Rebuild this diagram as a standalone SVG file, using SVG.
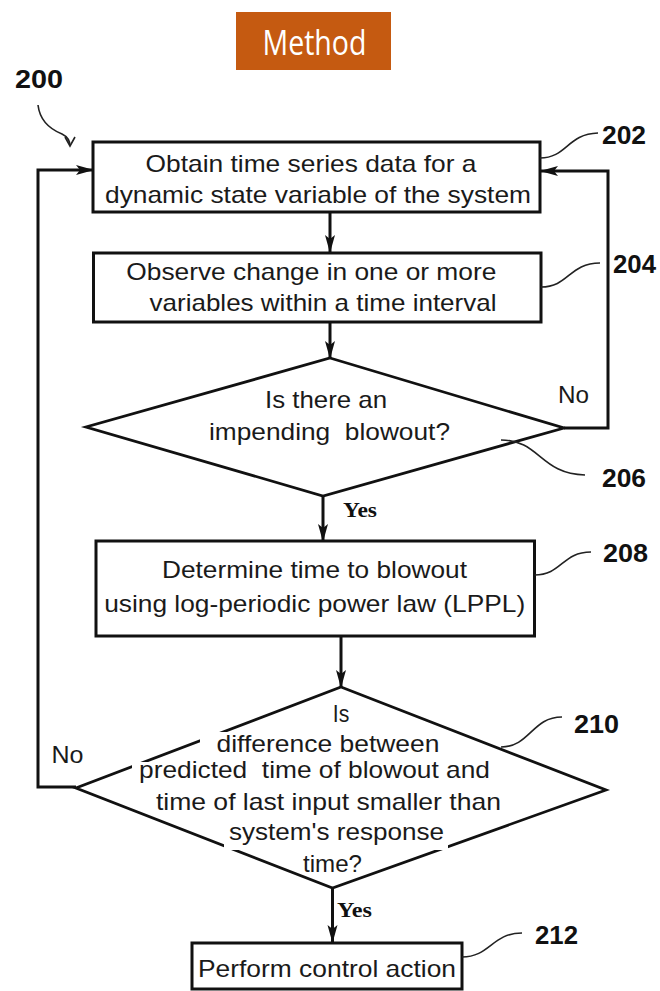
<svg xmlns="http://www.w3.org/2000/svg" width="660" height="991" viewBox="0 0 660 991">
<defs>
<marker id="arr" markerUnits="userSpaceOnUse" markerWidth="18" markerHeight="12" refX="17" refY="6" orient="auto">
<path d="M0,1 L18,6 L0,11 L4,6 z" fill="#111"/>
</marker>
<marker id="open" markerUnits="userSpaceOnUse" markerWidth="12" markerHeight="12" refX="10" refY="6" orient="auto">
<path d="M1,1 L10,6 L1,11" fill="none" stroke="#222" stroke-width="1.6"/>
</marker>
<style>
.box{fill:#fff;stroke:#111;stroke-width:3}
.dia{fill:#fff;stroke:#111;stroke-width:2.8;stroke-linejoin:miter}
.t{font-family:"Liberation Sans",Arial,sans-serif;font-size:24px;fill:#1a1a1a;text-anchor:middle}
.ref{font-family:"Liberation Sans",Arial,sans-serif;font-size:25px;font-weight:bold;fill:#111}
.yes{font-family:"Liberation Serif","Times New Roman",serif;font-size:21px;font-weight:bold;fill:#111}
.conn{fill:none;stroke:#111;stroke-width:3}
.lead{fill:none;stroke:#222;stroke-width:1.6}
.gap{fill:#fff}
</style>
</defs>
<rect width="660" height="991" fill="#fff"/>

<g id="title">
<rect x="236" y="12" width="155" height="58" fill="#C55A11"/>
<text x="314.5" y="55" font-family="'Open Sans','Noto Sans',sans-serif" font-size="34" font-weight="500" fill="#fff" text-anchor="middle" textLength="104" lengthAdjust="spacingAndGlyphs">Method</text>
</g>

<g id="label-200">
<text x="15" y="88" class="ref" textLength="48" lengthAdjust="spacingAndGlyphs">200</text>
<path d="M38,105 C40,122 52,130 62,134 C68,137 70,141 70,146" class="lead" marker-end="url(#open)"/>
</g>

<g id="connectors">
<path d="M330,212 L330,252" class="conn" marker-end="url(#arr)"/>
<path d="M330,322 L330,358" class="conn" marker-end="url(#arr)"/>
<path d="M323,496 L323,541" class="conn" marker-end="url(#arr)"/>
<path d="M341,636 L341,687" class="conn" stroke-width="4" marker-end="url(#arr)"/>
<path d="M332.5,888 L332.5,942" class="conn" marker-end="url(#arr)"/>
<path d="M564,428 L608,428 L608,171 L541,171" class="conn" marker-end="url(#arr)"/>
<path d="M76,787 L38,787 L38,170 L93,170" class="conn" stroke-width="2.6" marker-end="url(#arr)"/>
<text x="558" y="403" class="t" style="text-anchor:start" textLength="31" lengthAdjust="spacingAndGlyphs">No</text>
<text x="343" y="517" class="yes" textLength="34" lengthAdjust="spacingAndGlyphs">Yes</text>
<text x="51.5" y="763" class="t" style="text-anchor:start" textLength="32" lengthAdjust="spacingAndGlyphs">No</text>
<text x="337" y="917" class="yes" textLength="35" lengthAdjust="spacingAndGlyphs">Yes</text>
</g>

<g id="node-202">
<rect x="93" y="142" width="447" height="70" class="box"/>
<text x="311" y="172" class="t" textLength="331" lengthAdjust="spacingAndGlyphs">Obtain time series data for a</text>
<text x="318" y="203" class="t" textLength="426" lengthAdjust="spacingAndGlyphs">dynamic state variable of the system</text>
<path d="M540,158 C567,158 567,134 598,133" class="lead"/>
<text x="602" y="144" class="ref" textLength="44" lengthAdjust="spacingAndGlyphs">202</text>
</g>

<g id="node-204">
<rect x="93.5" y="253" width="447.5" height="69" class="box" stroke-width="2.6"/>
<text x="311.3" y="280" class="t" textLength="370" lengthAdjust="spacingAndGlyphs">Observe change in one or more</text>
<text x="323" y="311" class="t" textLength="347" lengthAdjust="spacingAndGlyphs">variables within a time interval</text>
<path d="M541,287 C569,287 569,263 600,263" class="lead"/>
<text x="613" y="273" class="ref" textLength="43" lengthAdjust="spacingAndGlyphs">204</text>
</g>

<g id="node-206">
<polygon points="330,358 564,428 323,496 86,427" class="dia"/>
<text x="326" y="408" class="t" textLength="122" lengthAdjust="spacingAndGlyphs">Is there an</text>
<text x="329.5" y="440" class="t" xml:space="preserve" textLength="241" lengthAdjust="spacingAndGlyphs">impending  blowout?</text>
<path d="M501,440 C540,440 540,474 585,475" class="lead"/>
<text x="602" y="487" class="ref" textLength="44" lengthAdjust="spacingAndGlyphs">206</text>
</g>

<g id="node-208">
<rect x="96" y="541" width="438.5" height="95" class="box" stroke-width="3.5"/>
<text x="314.5" y="578" class="t" textLength="305" lengthAdjust="spacingAndGlyphs">Determine time to blowout</text>
<text x="314.7" y="612" class="t" textLength="421" lengthAdjust="spacingAndGlyphs">using log-periodic power law (LPPL)</text>
<path d="M534.5,575 C562,575 562,552 591,552" class="lead"/>
<text x="603" y="562" class="ref" textLength="45" lengthAdjust="spacingAndGlyphs">208</text>
</g>

<g id="node-210">
<polygon points="341,687 606,790 332.5,888 76,788" class="dia"/>
<rect x="200" y="732" width="245" height="24" class="gap"/>
<rect x="132" y="762" width="365" height="22" class="gap"/>
<rect x="224" y="842" width="224" height="8" class="gap"/>
<text x="341" y="722" class="t" textLength="16.5" lengthAdjust="spacingAndGlyphs">Is</text>
<text x="328" y="752" class="t" textLength="223" lengthAdjust="spacingAndGlyphs">difference between</text>
<text x="314.5" y="778" class="t" xml:space="preserve" textLength="351" lengthAdjust="spacingAndGlyphs">predicted  time of blowout and</text>
<text x="328.4" y="810" class="t" textLength="345" lengthAdjust="spacingAndGlyphs">time of last input smaller than</text>
<text x="336.5" y="840" class="t" textLength="215" lengthAdjust="spacingAndGlyphs">system's response</text>
<text x="332.5" y="872" class="t" textLength="59" lengthAdjust="spacingAndGlyphs">time?</text>
<path d="M501,747 C530,747 532,717 562,717" class="lead"/>
<text x="574" y="733" class="ref" textLength="45" lengthAdjust="spacingAndGlyphs">210</text>
</g>

<g id="node-212">
<rect x="192" y="943" width="270" height="46" class="box" stroke-width="3.5"/>
<text x="327" y="977" class="t" textLength="258" lengthAdjust="spacingAndGlyphs">Perform control action</text>
<path d="M462,957 C490,957 492,933 522,933" class="lead"/>
<text x="535" y="944" class="ref" textLength="43" lengthAdjust="spacingAndGlyphs">212</text>
</g>
</svg>
